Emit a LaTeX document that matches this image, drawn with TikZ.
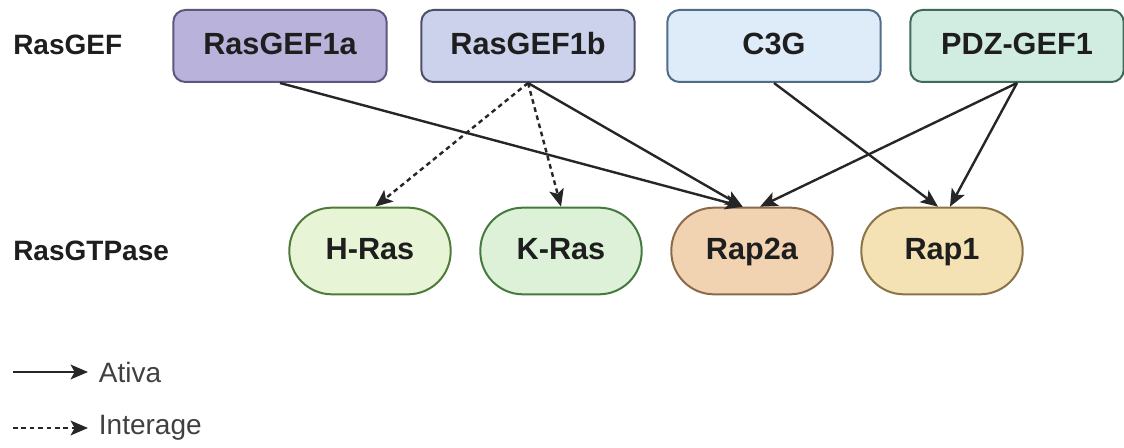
\documentclass[tikz,border=0pt]{standalone}
\usepackage{fontspec}
\setmainfont{Liberation Sans}
\usetikzlibrary{arrows.meta}
\definecolor{texto}{HTML}{1E1E1E}
\definecolor{seta}{HTML}{262626}
\definecolor{fundoA}{HTML}{B9B3DC}\definecolor{bordaA}{HTML}{5A587E}
\definecolor{fundoB}{HTML}{CDD2EC}\definecolor{bordaB}{HTML}{4C5068}
\definecolor{fundoC}{HTML}{DEEBF9}\definecolor{bordaC}{HTML}{506C88}
\definecolor{fundoD}{HTML}{D1EDE2}\definecolor{bordaD}{HTML}{3F6A58}
\definecolor{fundoE}{HTML}{E8F4D6}\definecolor{bordaE}{HTML}{4F7A39}
\definecolor{fundoF}{HTML}{DCF1D8}\definecolor{bordaF}{HTML}{447A3D}
\definecolor{fundoG}{HTML}{F1D3B2}\definecolor{bordaG}{HTML}{8A6A4A}
\definecolor{fundoH}{HTML}{F4E2B4}\definecolor{bordaH}{HTML}{8A7448}
\def\gefs{rasgef1a/280/RasGEF1a/fundoA/bordaA, rasgef1b/528/RasGEF1b/fundoB/bordaB,
  c3g/774/C3G/fundoC/bordaC, pdzgef1/1017/PDZ-GEF1/fundoD/bordaD}
\def\gtpases{hras/370/H-Ras/fundoE/bordaE, kras/561/K-Ras/fundoF/bordaF,
  rap2a/752/Rap2a/fundoG/bordaG, rap1/942/Rap1/fundoH/bordaH}
\tikzset{
  gef/.style={rectangle, rounded corners=9pt, line width=1.5pt, minimum width=160pt, minimum height=54pt, inner sep=0pt, text height=16.5pt, text depth=3pt, font=\fontsize{23}{26}\selectfont\bfseries, text=texto},
  gtpase/.style={gef, rounded corners=32pt, minimum width=121pt, minimum height=65pt},
  rotulo/.style={anchor=west, inner sep=0pt, font=\fontsize{21}{24}\selectfont\bfseries, text=texto},
  legenda/.style={anchor=west, inner sep=8pt, font=\fontsize{21}{24}\selectfont, text=texto!85},
  ativa/.style={-{Stealth[length=13pt, width=11pt, inset=3pt]}, line width=1.8pt, draw=seta},
  interage/.style={ativa, dash pattern=on 3.5pt off 2.8pt},
}

\begin{document}
\begin{tikzpicture}[x=0.75pt, y=-0.75pt]
  \useasboundingbox (0,0) rectangle (1124,448);

  % ---------------- linhas ----------------
  \node[rotulo] (lbgef) at (13,45) {RasGEF};
  \node[rotulo] (lbgtpase) at (13,251) {RasGTPase};
  \foreach \nome/\x/\txt/\fundo/\borda in \gefs {
    \node[gef, fill=\fundo, draw=\borda] (\nome) at (\x,46) {\txt};
  }
  \foreach \nome/\x/\txt/\fundo/\borda in \gtpases {
    \node[gtpase, fill=\fundo, draw=\borda] (\nome) at (\x,251) {\txt};
  }

  % ---------------- interacoes ----------------
  \draw[interage] (rasgef1b.south) -- ([xshift=4pt]hras.north);
  \draw[interage] (rasgef1b.south) -- (kras.north);
  \draw[ativa] (rasgef1a.south) -- ([xshift=-7pt]rap2a.north);
  \draw[ativa] (rasgef1b.south) -- ([xshift=-7pt]rap2a.north);
  \draw[ativa] (pdzgef1.south) -- ([xshift=6pt]rap2a.north);
  \draw[ativa] (c3g.south) -- ([xshift=-3pt]rap1.north);
  \draw[ativa] (pdzgef1.south) -- ([xshift=6pt]rap1.north);

  % ---------------- legenda ----------------
  \coordinate (leg1) at (13,372);
  \coordinate (leg2) at (13,428);
  \node[legenda] (txtativa) at (88,372) {Ativa};
  \node[legenda] (txtinterage) at (88,428) {Interage};
  \draw[ativa] (leg1) -- (txtativa.west);
  \draw[interage] (leg2) -- (txtinterage.west);
\end{tikzpicture}
\end{document}
